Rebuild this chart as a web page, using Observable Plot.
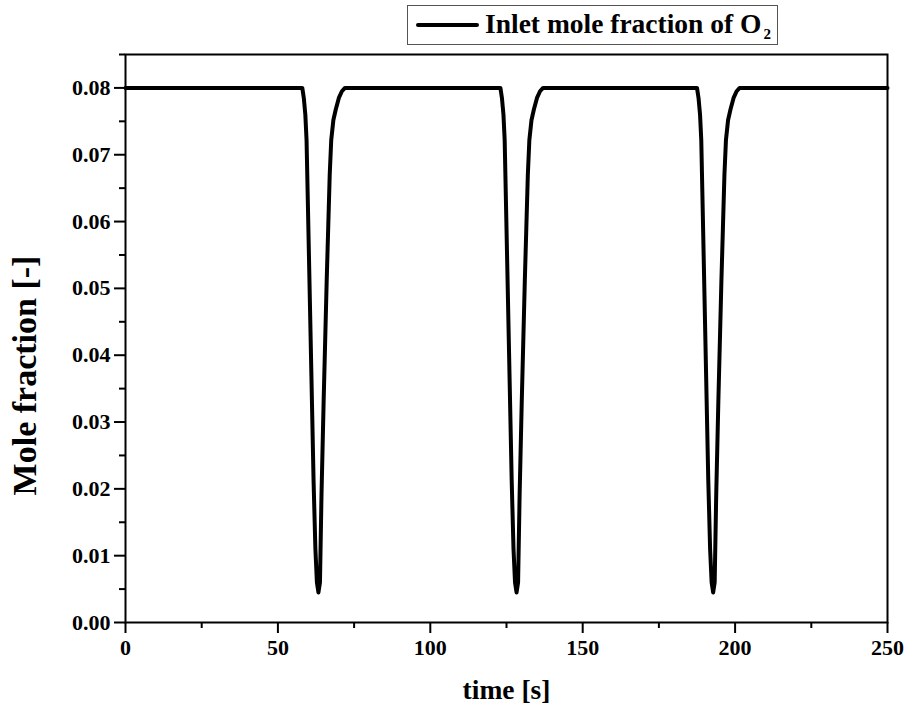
<!DOCTYPE html>
<html>
<head>
<meta charset="utf-8">
<script src="https://cdn.jsdelivr.net/npm/d3@7"></script>
<script src="https://cdn.jsdelivr.net/npm/@observablehq/plot@0.6"></script>
<style>
  html, body { margin: 0; padding: 0; background: #fff; }
  #wrap { position: relative; width: 904px; height: 706px; font-family: "Liberation Serif", "Times New Roman", serif; }
  #legend { position: absolute; left: 407px; top: 5px; width: 371px; height: 40px; border: 1px solid #555; box-sizing: border-box; background: #fff; }
  #legend .sw { position: absolute; left: 8px; top: 17px; width: 63px; height: 4px; background: #000; border-radius: 2px; }
  #legend .tx { position: absolute; left: 77px; top: 2px; font-size: 27.5px; font-weight: bold; white-space: nowrap; line-height: 32px; }
  #legend sub { font-size: 15px; vertical-align: -6px; margin-left: 2px; }
</style>
</head>
<body>
<div id="wrap">
  <div id="chart"></div>
  <div id="legend"><div class="sw"></div><div class="tx">Inlet mole fraction of O<sub>2</sub></div></div>
</div>
<script>
// time [s]
const time = [
  0, 58.0, 58.5, 59.0, 59.4, 60.0, 61.0, 61.7, 62.3, 62.8, 63.3, 63.8, 64.3, 65.0, 66.0, 66.5, 67.0, 67.5, 68.2, 69.0, 70.0, 71.0, 72.0,
  123.0, 123.5, 124.0, 124.4, 125.0, 126.0, 126.7, 127.3, 127.8, 128.3, 128.8, 129.3, 130.0, 131.0, 131.5, 132.0, 132.5, 133.2, 134.0, 135.0, 136.0, 137.0,
  187.5, 188.0, 188.5, 188.9, 189.5, 190.5, 191.2, 191.8, 192.3, 192.8, 193.3, 193.8, 194.5, 195.5, 196.0, 196.5, 197.0, 197.7, 198.5, 199.5, 200.5, 201.5,
  250
];
// Inlet mole fraction of O2 [-]
const o2 = [
  0.0800, 0.0800, 0.0785, 0.0760, 0.0722, 0.0590, 0.0368, 0.0213, 0.0110, 0.0060, 0.0045, 0.0060, 0.0190, 0.0330, 0.0510, 0.0590, 0.0670, 0.0722, 0.0752, 0.0768, 0.0785, 0.0795, 0.0800,
  0.0800, 0.0785, 0.0760, 0.0722, 0.0590, 0.0368, 0.0213, 0.0110, 0.0060, 0.0045, 0.0060, 0.0190, 0.0330, 0.0510, 0.0590, 0.0670, 0.0722, 0.0752, 0.0768, 0.0785, 0.0795, 0.0800,
  0.0800, 0.0785, 0.0760, 0.0722, 0.0590, 0.0368, 0.0213, 0.0110, 0.0060, 0.0045, 0.0060, 0.0190, 0.0330, 0.0510, 0.0590, 0.0670, 0.0722, 0.0752, 0.0768, 0.0785, 0.0795, 0.0800,
  0.0800
];
const xMajor = [0, 50, 100, 150, 200, 250];
const xMinor = [25, 75, 125, 175, 225];
const yMajor = [0, 0.01, 0.02, 0.03, 0.04, 0.05, 0.06, 0.07, 0.08];
const yMinor = [0.005, 0.015, 0.025, 0.035, 0.045, 0.055, 0.065, 0.075, 0.085];
const xTitle = "time [s]";
const yTitle = "Mole fraction [-]";

const data = time.map((t, i) => ({t, v: o2[i]}));

const chart = Plot.plot({
  width: 904,
  height: 706,
  marginLeft: 125,
  marginRight: 17,
  marginTop: 54,
  marginBottom: 84,
  style: {fontFamily: "Liberation Serif, Times New Roman, serif", fontSize: "22px", fontWeight: "bold", background: "transparent", color: "#000"},
  x: {domain: [0, 250], label: null},
  y: {domain: [0, 0.085], label: null},
  marks: [
    Plot.axisX(xMajor, {tickSize: 11, tickPadding: 6, strokeWidth: 2, label: null, fontSize: 22, fontWeight: "bold"}),
    Plot.axisX(xMinor, {tickSize: 6, fill: "none", strokeWidth: 2, label: null}),
    Plot.axisY(yMajor, {tickSize: 11, tickPadding: 4, strokeWidth: 2, tickFormat: d3.format(".2f"), label: null, fontSize: 22, fontWeight: "bold"}),
    Plot.axisY(yMinor, {tickSize: 6, fill: "none", strokeWidth: 2, label: null}),
    Plot.line(data, {x: "t", y: "v", stroke: "#000", strokeWidth: 4, strokeLinejoin: "round", strokeLinecap: "round"}),
    Plot.frame({stroke: "#000", strokeWidth: 2}),
    Plot.text([xTitle], {frameAnchor: "bottom", dy: 68, text: d => d, fontSize: 27.5, fontWeight: "bold", lineAnchor: "middle", textAnchor: "middle"}),
    Plot.text([yTitle], {frameAnchor: "left", dx: -100, dy: 37, rotate: -90, text: d => d, fontSize: 34, fontWeight: "bold", lineAnchor: "middle", textAnchor: "middle"})
  ]
});
document.getElementById("chart").appendChild(chart);
</script>
</body>
</html>
